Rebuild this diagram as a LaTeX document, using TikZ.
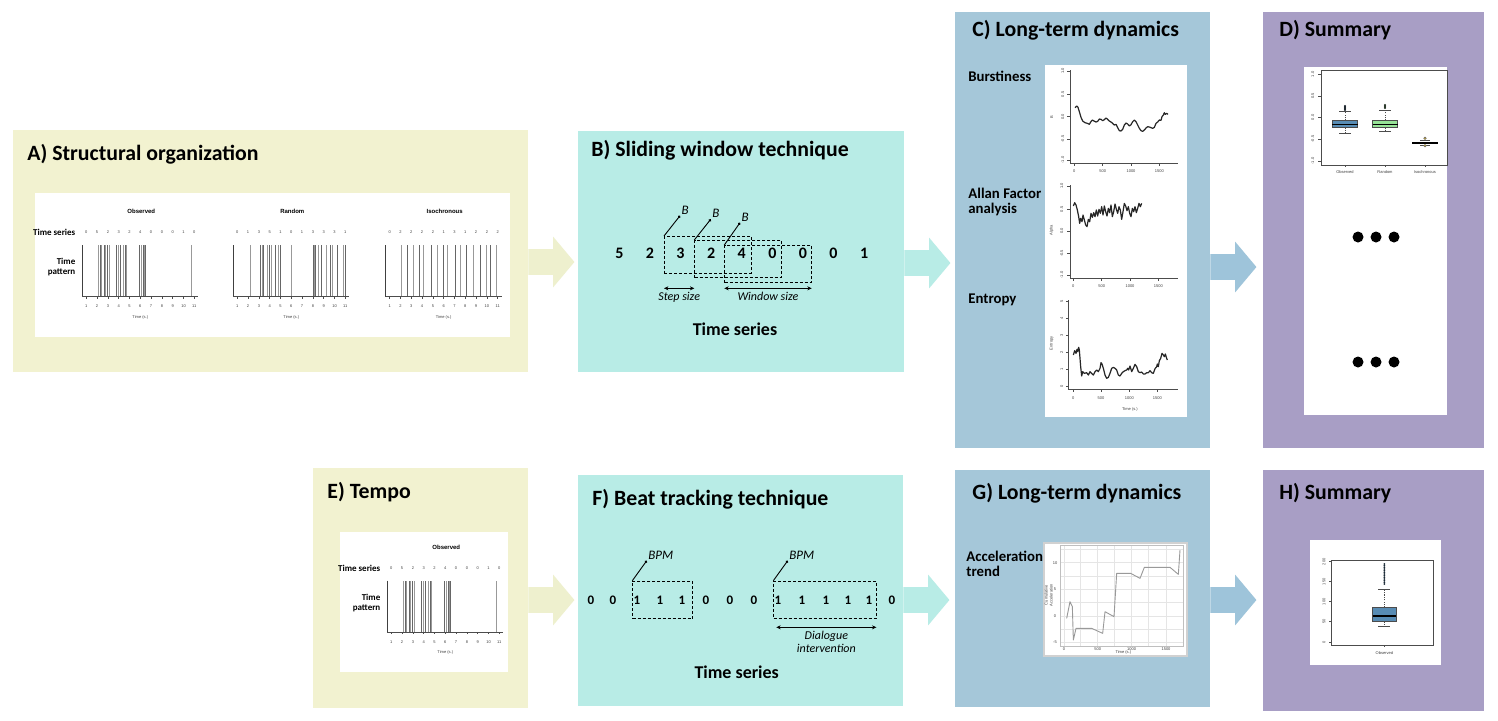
\documentclass[tikz,border=0pt]{standalone}
\usepackage{fontspec}
\setmainfont{Carlito}
\newfontfamily\plotfont{Liberation Sans}
\usetikzlibrary{positioning,shapes.arrows,arrows.meta}

\definecolor{panelyellow}{RGB}{242,242,208}
\definecolor{panelcyan}{RGB}{184,236,230}
\definecolor{panelblue}{RGB}{165,199,217}
\definecolor{panelpurple}{RGB}{168,158,197}
\definecolor{arrowyellow}{RGB}{238,240,206}
\definecolor{arrowblue}{RGB}{158,196,218}
\definecolor{boxblue}{RGB}{88,140,180}
\definecolor{boxgreen}{RGB}{150,226,150}
\definecolor{isogold}{RGB}{200,170,60}

\newcommand{\spikeplot}[5]{%
  \begin{scope}[shift={(#1,#2)}]
    \node[plottitle] at (59,-85) {#3};
    \foreach \v [count=\k] in {#4}
      \node[ticktext] at ({4+(\k-1)*10.8},-64.5) {\v};
    \foreach \s [count=\i] in {#5} {
      \pgfmathsetmacro\shade{isodd(\i) ? 40 : 60}
      \draw[spike, black!\shade] (\s,0) -- (\s,-51.7);
    }
    \draw[line width=0.7pt, black!75] (0,-51.7) -- (0,0);
    \draw[plotaxis] (0,0) -- (116,0);
    \foreach \k in {1,...,11} {
      \draw[plotaxis] ({4+(\k-1)*10.8},0) -- ++(0,2);
      \node[ticktext] at ({4+(\k-1)*10.8},9.5) {\k};
    }
    \node[ticktext] at (58,20.5) {Time (s.)};
  \end{scope}}

\begin{document}
\begin{tikzpicture}[x=0.5pt, y=-0.5pt,
    panel/.style={rectangle, draw=none, anchor=north west, inner sep=0pt, outer sep=0pt},
    paneltitle/.style={anchor=base west, inner sep=0pt, font=\fontsize{10.9}{12}\selectfont\bfseries},
    rowlabel/.style={anchor=west, inner sep=0pt, align=left, font=\fontsize{7.4}{7.5}\selectfont\bfseries},
    fatarrow/.style={single arrow, draw=none, anchor=tail, minimum height=23pt, minimum width=25pt,
        single arrow head extend=6.25pt, single arrow tip angle=100, inner xsep=0pt, inner ysep=6.25pt,
        text height=0pt, text depth=0pt},
    bignum/.style={inner sep=0pt, font=\fontsize{8}{9}\selectfont\bfseries},
    beatnum/.style={inner sep=0pt, font=\fontsize{6.5}{8}\selectfont\bfseries},
    winbox/.style={rectangle, draw, dash pattern=on 1.5pt off 1pt, line width=0.35pt, anchor=north west, inner sep=0pt},
    tagtext/.style={anchor=south west, inner sep=0.8pt, outer sep=0pt, font=\fontsize{6.5}{8}\selectfont\itshape},
    pointer/.style={line width=0.45pt, {Circle[length=1.3pt]}-},
    dimline/.style={line width=0.45pt, {Stealth[length=2.2pt,width=2pt]}-{Stealth[length=2.2pt,width=2pt]}},
    spantext/.style={below=1.5pt, inner sep=0pt, align=center, font=\fontsize{6}{6.5}\selectfont\itshape},
    seriestitle/.style={inner sep=0pt, font=\fontsize{9}{10}\selectfont\bfseries},
    sidelabel/.style={anchor=east, inner sep=0pt, font=\fontsize{4.5}{5}\selectfont\bfseries},
    ticktext/.style={inner sep=0pt, text=black!75, font=\plotfont\fontsize{2}{2.4}\selectfont},
    plottitle/.style={inner sep=0pt, font=\plotfont\fontsize{3}{3.5}\selectfont\bfseries},
    spike/.style={line width=0.45pt},
    plotaxis/.style={line width=0.3pt, black!70},
    trace/.style={line width=0.6pt, black!85, line join=round},
    whisk/.style={line width=0.25pt, black!70, dash pattern=on 0.6pt off 0.6pt},
    gridline/.style={line width=0.2pt, black!10}
    ]
\path[fill=white, use as bounding box] (0,0) rectangle (1498,720);

\node[panel, fill=panelyellow, minimum width=257.5pt, minimum height=121pt] (A) at (13,130) {};
\node[panel, fill=panelcyan, minimum width=163pt, minimum height=120.5pt] (B) at (578,131) {};
\node[panel, fill=panelblue, minimum width=127.5pt, minimum height=218pt] (C) at (955,12) {};
\node[panel, fill=panelpurple, minimum width=110.5pt, minimum height=218pt] (D) at (1263,12) {};
\node[panel, fill=panelyellow, minimum width=107.5pt, minimum height=120pt] (E) at (313,468) {};
\node[panel, fill=panelcyan, minimum width=162.5pt, minimum height=115.5pt] (F) at (578,475) {};
\node[panel, fill=panelblue, minimum width=127.5pt, minimum height=118.5pt] (G) at (955,470) {};
\node[panel, fill=panelpurple, minimum width=110.5pt, minimum height=120.5pt] (H) at (1263,470) {};

\node[paneltitle] (Atitle) at (27,160) {A) Structural organization};
\node[paneltitle] (Btitle) at (591,156) {B) Sliding window technique};
\node[paneltitle] (Ctitle) at (972,36) {C) Long-term dynamics};
\node[paneltitle] (Dtitle) at (1279,36) {D) Summary};
\node[paneltitle] (Etitle) at (327,498) {E) Tempo};
\node[paneltitle] (Ftitle) at (592,505) {F) Beat tracking technique};
\node[paneltitle] (Gtitle) at (972,499) {G) Long-term dynamics};
\node[paneltitle] (Htitle) at (1279,499) {H) Summary};

\node[fatarrow, fill=arrowyellow] (AB) at (528,262) {};
\node[fatarrow, fill=panelcyan] (BC) at (904,263) {};
\node[fatarrow, fill=arrowblue] (CD) at (1210,267) {};
\node[fatarrow, fill=arrowyellow] (EF) at (528,600) {};
\node[fatarrow, fill=panelcyan] (FG) at (903,600) {};
\node[fatarrow, fill=arrowblue] (GH) at (1210,600) {};

% A
\fill[white] (35,193) rectangle (510,337);
\spikeplot{82.3}{296.7}{Observed}{0,5,2,3,2,4,0,0,0,1,0}{16,17.7,18.7,21.7,23.4,25.4,26.7,34.4,36,37.7,41,42.7,44.4,56.7,58.7,60.7,61.7,63,109}
\spikeplot{233.3}{296.7}{Random}{0,1,3,5,1,0,1,3,3,3,1}{16.7,27.2,28.7,30.2,34.2,36.2,38.2,41.7,45,46.7,57.7,80,81,82.4,85,88.4,93.4,96.7,99.4,104,110,111.7}
\spikeplot{385.7}{296.7}{Isochronous}{0,2,2,2,2,1,3,1,2,2,2}{16,22,27.6,33.6,37.6,46,52,57.6,62,69.3,74.3,80.3,87.6,94.3,100.3,105,111}
\node[sidelabel] (Aseries) at (75.7,232) {Time series};
\node[sidelabel] (Atime) at (75.7,261) {Time};
\node[sidelabel] (Apattern) at (75.7,272) {pattern};

% B
\foreach \v [count=\k] in {5,2,3,2,4,0,0,0,1}
  \node[bignum] (b\k) at ({619.3+(\k-1)*30.6},253) {\v};
\node[winbox, minimum width=43.35pt, minimum height=18.65pt] (w1) at (664,236) {};
\node[winbox, minimum width=43.35pt, minimum height=18.65pt] (w2) at (694.3,240) {};
\node[winbox, minimum width=43.35pt, minimum height=18.65pt] (w3) at (724.3,245) {};
\node[tagtext] (tag1) at (680,215.7) {B};
\node[tagtext] (tag2) at (710.7,219.3) {B};
\node[tagtext] (tag3) at (740,222.7) {B};
\draw[pointer] (tag1.south west) -- (w1.north west);
\draw[pointer] (tag2.south west) -- (w2.north west);
\draw[pointer] (tag3.south west) -- (w3.north west);
\coordinate (dimrow) at (0,288.3);
\draw[dimline] (w1.west |- dimrow) -- (w2.west |- dimrow) node[spantext, midway] {Step size};
\draw[dimline] (w3.west |- dimrow) -- (w3.east |- dimrow) node[spantext, midway] {Window size};
\node[seriestitle] (Bseries) at (735,329.3) {Time series};

% C
\fill[white] (1045,65) rectangle (1187,417);
\node[rowlabel] (burst) at (968,76) {Burstiness};
\node[rowlabel] (allan) at (968,202) {Allan Factor\\analysis};
\node[rowlabel] (entropy) at (968,300) {Entropy};
\begin{scope}[shift={(1040,60)}, scale=1/3]
  \draw[plotaxis] (90,30) -- (90,310) -- (415,310);
  \foreach \yy/\lab in {33/1.0,103/0.5,170/0.0,237/-0.5,300/-1.0} {
    \draw[plotaxis] (90,\yy) -- (82,\yy);
    \node[ticktext, rotate=90] at (68,\yy) {\lab};
  }
  \foreach \xx/\lab in {103/0,188/500,273/1000,358/1500} {
    \draw[plotaxis] (\xx,310) -- (\xx,318);
    \node[ticktext] at (\xx,333) {\lab};
  }
  \node[ticktext, rotate=90] at (35,170) {B};
  \draw[trace] plot coordinates {(105,143) (110,138) (114,142) (118,155) (123,172) (128,183) (135,188)
    (142,190) (148,193) (152,186) (157,180) (162,183) (168,186) (173,184) (178,177) (183,178) (188,182)
    (193,179) (198,174) (203,178) (208,183) (213,186) (218,190) (223,195) (228,193) (233,203) (238,212)
    (243,213) (248,208) (253,195) (258,189) (263,192) (268,198) (273,194) (278,185) (283,180) (288,185)
    (293,195) (298,205) (303,212) (308,214) (313,210) (318,204) (323,200) (328,201) (333,203) (338,205)
    (343,202) (348,190) (353,186) (358,180) (363,181) (366,170) (370,165) (373,158) (376,163) (380,160) (384,163)};
\end{scope}
\begin{scope}[shift={(1040,180)}, scale=1/3]
  \draw[plotaxis] (90,15) -- (90,295) -- (415,295);
  \foreach \yy/\lab in {18/1.0,88/0.5,153/0.0,220/-0.5,285/-1.0} {
    \draw[plotaxis] (90,\yy) -- (82,\yy);
    \node[ticktext, rotate=90] at (65,\yy) {\lab};
  }
  \foreach \xx/\lab in {100/0,185/500,270/1000,355/1500} {
    \draw[plotaxis] (\xx,295) -- (\xx,303);
    \node[ticktext] at (\xx,318) {\lab};
  }
  \node[ticktext, rotate=90] at (35,150) {Alpha};
  \draw[trace] plot coordinates {(100,78) (104,68) (108,75) (112,90) (116,110) (119,130) (122,115) (126,125)
    (129,105) (133,120) (137,135) (141,140) (145,118) (149,125) (153,100) (157,112) (161,98) (165,110)
    (169,90) (173,108) (177,88) (181,100) (185,80) (189,105) (193,78) (197,95) (201,108) (205,85) (209,98)
    (213,75) (217,110) (221,95) (225,72) (229,88) (233,100) (237,80) (241,90) (245,118) (249,95) (253,70)
    (257,78) (261,92) (265,80) (269,100) (273,110) (277,85) (281,95) (285,80) (289,98) (293,85) (297,70)
    (301,80) (305,70)};
\end{scope}
\begin{scope}[shift={(1040,290)}, scale=1/3]
  \draw[plotaxis] (85,30) -- (85,297) -- (415,297);
  \foreach \yy/\lab in {33/5,85/4,135/3,187/2,238/1,290/0} {
    \draw[plotaxis] (85,\yy) -- (77,\yy);
    \node[ticktext, rotate=90] at (65,\yy) {\lab};
  }
  \foreach \xx/\lab in {100/0,183/500,268/1000,352/1500} {
    \draw[plotaxis] (\xx,297) -- (\xx,305);
    \node[ticktext] at (\xx,325) {\lab};
  }
  \node[ticktext] at (270,358) {Time (s.)};
  \node[ticktext, rotate=90] at (35,160) {Entropy};
  \draw[trace] plot coordinates {(100,195) (104,182) (108,190) (111,178) (113,185) (116,172) (118,180)
    (122,230) (125,258) (128,245) (133,250) (140,248) (145,255) (150,245) (155,250) (160,255) (165,245)
    (170,240) (175,245) (180,235) (183,218) (186,222) (190,235) (195,255) (200,265) (205,262) (210,250)
    (215,235) (220,232) (225,235) (230,240) (235,255) (240,258) (245,250) (250,245) (255,242) (260,240)
    (263,235) (266,240) (270,228) (275,245) (280,235) (285,223) (290,230) (295,245) (300,248) (305,246)
    (310,252) (315,252) (320,248) (325,248) (330,242) (335,248) (340,250) (345,236) (350,230) (352,222)
    (355,230) (358,212) (362,205) (366,190) (370,195) (373,200) (376,192) (380,205) (382,210)};
\end{scope}

% D
\fill[white] (1304,67) rectangle (1447,415);
\begin{scope}[shift={(1300,65)}, scale=1/3]
  \draw[plotaxis] (63,17) rectangle (443,300);
  \foreach \yy/\lab in {28/1.0,93/0.5,157/0.0,222/-0.5,288/-1.0} {
    \draw[plotaxis] (63,\yy) -- (55,\yy);
    \node[ticktext, rotate=90] at (38,\yy) {\lab};
  }
  \foreach \xx/\lab in {135/Observed,255/Random,375/Isochronous} {
    \draw[plotaxis] (\xx,300) -- (\xx,307);
    \node[ticktext] at (\xx,322) {\lab};
  }
  \draw[whisk] (135,167) -- (135,140) (135,187) -- (135,205);
  \draw[plotaxis] (117,140) -- (153,140) (117,205) -- (153,205);
  \filldraw[fill=boxblue, draw=black!70, line width=0.3pt] (97,167) rectangle (173,187);
  \draw[line width=0.7pt] (97,178) -- (173,178);
  \foreach \yy in {123,126,...,137} \fill[black!80!boxblue] (135,\yy) circle (3.5);
  \draw[whisk] (255,167) -- (255,135) (255,187) -- (255,200);
  \draw[plotaxis] (237,135) -- (273,135) (237,200) -- (273,200);
  \filldraw[fill=boxgreen, draw=black!70, line width=0.3pt] (218,167) rectangle (293,187);
  \draw[line width=0.7pt] (218,178) -- (293,178);
  \foreach \yy in {120,123,...,130} \fill[black!80!boxgreen] (255,\yy) circle (3.5);
  \draw[plotaxis] (360,225) -- (390,225) (360,240) -- (390,240);
  \draw[line width=0.9pt] (337,233) -- (413,233);
  \filldraw[fill=isogold, draw=black!60, line width=0.2pt] (375,220) circle (4) (375,242) circle (4);
\end{scope}
\foreach \xx in {1358,1376,1394} {
  \fill (\xx,237) circle (5.5);
  \fill (\xx,362) circle (5.5);
}

% E
\fill[white] (340,532) rectangle (508,672);
\spikeplot{387.3}{632.3}{Observed}{0,5,2,3,2,4,0,0,0,1,0}{16,17.7,18.7,21.7,23.4,25.4,26.7,34.4,36,37.7,41,42.7,44.4,56.7,58.7,60.7,61.7,63,109}
\node[sidelabel] (Eseries) at (380.7,568.3) {Time series};
\node[sidelabel] (Etime) at (380.7,597.7) {Time};
\node[sidelabel] (Epattern) at (380.7,608.3) {pattern};

% F
\foreach \x/\v [count=\k] in {591/0,613/0,637/1,660/1,682/1,706/0,730/0,754/0,778/1,802/1,826/1,848/1,869/1,892/0}
  \node[beatnum] (f\k) at (\x,600) {\v};
\node[winbox, minimum width=30pt, minimum height=18.8pt] (run1) at (632.3,580.7) {};
\node[winbox, minimum width=51.2pt, minimum height=18.8pt] (run2) at (773.3,580.7) {};
\node[tagtext] (bpm1) at (646.7,560.7) {BPM};
\node[tagtext] (bpm2) at (787.7,560.7) {BPM};
\draw[pointer] (bpm1.south west) -- (run1.north west);
\draw[pointer] (bpm2.south west) -- (run2.north west);
\coordinate (dialrow) at (0,627.3);
\coordinate (dialL) at (run2.west |- dialrow);
\draw[dimline] ([xshift=1.5pt]dialL) -- (run2.east |- dialrow) node[spantext, midway] {Dialogue\\intervention};
\node[seriestitle] (Fseries) at (736.7,672.7) {Time series};

% G
\node[rowlabel] (accel) at (966,564) {Acceleration\\trend};
\begin{scope}[shift={(1040,540)}, scale=1/3]
  \filldraw[fill=white, draw=black!18, line width=0.8pt] (12,9) rectangle (441,348);
  \foreach \xx in {72,122,173,223,275,325,378} \draw[gridline] (\xx,15) -- (\xx,318);
  \foreach \yy in {28,68,108,148,188,228,268,306} \draw[gridline] (60,\yy) -- (430,\yy);
  \draw[black!25, line width=0.3pt] (60,15) rectangle (430,318);
  \foreach \yy/\lab in {68/10,148/5,228/0,306/-5} \node[ticktext] at (45,\yy) {\lab};
  \foreach \xx/\lab in {72/0,173/500,275/1000,378/1500} \node[ticktext] at (\xx,327) {\lab};
  \node[ticktext] at (250,338) {Time (s.)};
  \node[ticktext, rotate=90, align=center] at (26,165) {Cumulative\\Acceleration};
  \draw[line width=0.45pt, black!40, line join=round] plot coordinates {(80,235) (90,185) (97,200) (100,300)
    (108,265) (155,265) (188,280) (195,215) (222,230) (230,100) (272,100) (300,115) (313,82) (390,82)
    (415,103) (420,30)};
\end{scope}

% H
\fill[white] (1310,540) rectangle (1441,665);
\begin{scope}[shift={(1305,540)}, scale=1/3]
  \draw[plotaxis] (80,60) rectangle (385,315);
  \foreach \yy/\lab in {65/200,125/150,185/100,245/50,307/0} {
    \draw[plotaxis] (80,\yy) -- (72,\yy);
    \node[ticktext, rotate=90] at (57,\yy) {\lab};
  }
  \draw[plotaxis] (238,315) -- (238,322);
  \node[ticktext] at (238,340) {Observed};
  \draw[whisk] (238,203) -- (238,147) (238,245) -- (238,258);
  \draw[plotaxis] (220,147) -- (255,147) (220,258) -- (255,258);
  \filldraw[fill=boxblue, draw=black!70, line width=0.3pt] (203,203) rectangle (273,245);
  \draw[line width=0.7pt] (203,228) -- (273,228);
  \foreach \yy in {72,77,...,132} \fill[black!70!boxblue] (238,\yy) circle (3);
\end{scope}
\end{tikzpicture}
\end{document}
